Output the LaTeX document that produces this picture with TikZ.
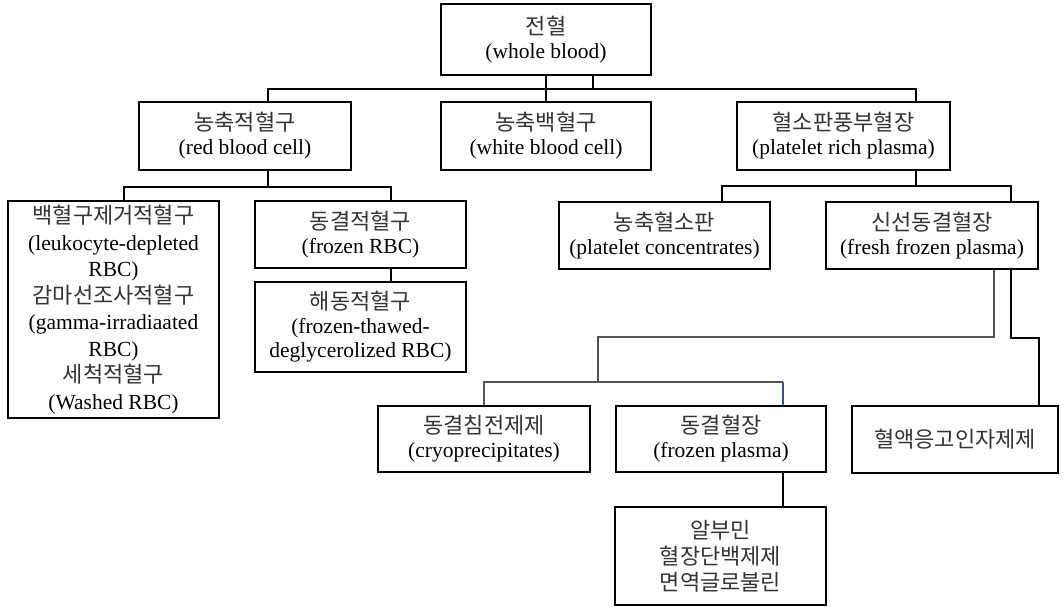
\documentclass[tikz,border=0pt]{standalone}
\usepackage{fontspec}
\setmainfont{Liberation Serif}
\newfontfamily\kr{Noto Sans CJK KR}
\usetikzlibrary{positioning}
\definecolor{lineG}{RGB}{85,85,85}
\definecolor{lineB}{RGB}{45,85,165}
\newcommand\kor[1]{{\kr\fontsize{22}{24}\selectfont\color{black!80}#1}}
\tikzset{
    boxN/.style args={#1 #2}{
        draw, line width=2.2pt, minimum width=#1, minimum height=#2,
        inner sep=0pt, align=center, font=\fontsize{21.5}{24}\selectfont
    },
    linkK/.style={line width=2pt},
    linkG/.style={line width=1.1pt, color=lineG},
    linkB/.style={line width=1.1pt, color=lineB}
}

\begin{document}
\begin{tikzpicture}[x=1pt,y=-1pt]
    \useasboundingbox (0,0) rectangle (1063,606);
    % top
    \node[boxN={210 71}] (whole) at (546,39.5) {\kor{전혈}\\(whole blood)};
    \node[boxN={212 68}] (rbc) at (245,136) {\kor{농축적혈구}\\(red blood cell)};
    \node[boxN={210 68}] (wbc) at (546,136) {\kor{농축백혈구}\\(white blood cell)};
    \node[boxN={213 68}] (prp) at (843.5,136) {\kor{혈소판풍부혈장}\\(platelet rich plasma)};
    % red cells
    \node[boxN={211 217}, font=\fontsize{21.5}{26.5}\selectfont] (leuko) at (113.5,309.5)
        {\kor{백혈구제거적혈구}\\(leukocyte-depleted\\RBC)\\\kor{감마선조사적혈구}\\(gamma-irradiaated\\RBC)\\\kor{세척적혈구}\\(Washed RBC)};
    \node[boxN={211 67}] (frbc) at (360.5,234.5) {\kor{동결적혈구}\\(frozen RBC)};
    \node[boxN={211 90}] (thaw) at (360.5,327) {\kor{해동적혈구}\\(frozen-thawed-\\deglycerolized RBC)};
    % plasma
    \node[boxN={211 67}] (pc) at (664.5,235.5) {\kor{농축혈소판}\\(platelet concentrates)};
    \node[boxN={212 67}] (ffp) at (932,235.5) {\kor{신선동결혈장}\\(fresh frozen plasma)};
    \node[boxN={212 66}] (cryo) at (484,439) {\kor{동결침전제제}\\(cryoprecipitates)};
    \node[boxN={210 66}] (fp) at (721,439) {\kor{동결혈장}\\(frozen plasma)};
    \node[boxN={206 67}] (coag) at (955,439.5) {\kor{혈액응고인자제제}};
    \node[boxN={211 98}, font=\fontsize{21.5}{26}\selectfont] (alb) at (720.5,556) {\kor{알부민}\\\kor{혈장단백제제}\\\kor{면역글로불린}};
    % bus coordinates
    \coordinate (busA) at (593,89);
    \coordinate (busAl) at (268,89);
    \coordinate (busAr) at (916,89);
    \coordinate (busB) at (268,187);
    \coordinate (busBl) at (124,187);
    \coordinate (busBr) at (391,187);
    \coordinate (busC) at (916,186);
    \coordinate (busCl) at (722,186);
    \coordinate (busCr) at (1011,186);
    \coordinate (g1) at (994,337);
    \coordinate (g2) at (598,337);
    \coordinate (g3) at (598,382);
    \coordinate (g4) at (484,382);
    \coordinate (g5) at (783,382);
    \coordinate (k1) at (1011,338);
    \coordinate (k2) at (1039,338);
    % connectors
    \draw[linkK] (whole.south -| busA) -- (busA);
    \draw[linkK] (whole.south -| wbc.north) -- (wbc.north);
    \draw[linkK] (rbc.north -| busAl) -- (busAl) -- (busAr) -- (prp.north -| busAr);
    \draw[linkK] (rbc.south -| busB) -- (busB);
    \draw[linkK] (leuko.north -| busBl) -- (busBl) -- (busBr) -- (frbc.north -| busBr);
    \draw[linkK] (frbc.south -| busBr) -- (thaw.north -| busBr);
    \draw[linkK] (prp.south -| busC) -- (busC);
    \draw[linkK] (pc.north -| busCl) -- (busCl) -- (busCr) -- (ffp.north -| busCr);
    \draw[linkG] (ffp.south -| g1) -- (g1) -- (g2) -- (g3);
    \draw[linkG] (cryo.north -| g4) -- (g4) -- (g5);
    \draw[linkB] (g5) -- (fp.north -| g5);
    \draw[linkK] (ffp.south -| k1) -- (k1) -- (k2) -- (coag.north -| k2);
    \draw[linkK] (fp.south -| g5) -- (alb.north -| g5);
\end{tikzpicture}
\end{document}
